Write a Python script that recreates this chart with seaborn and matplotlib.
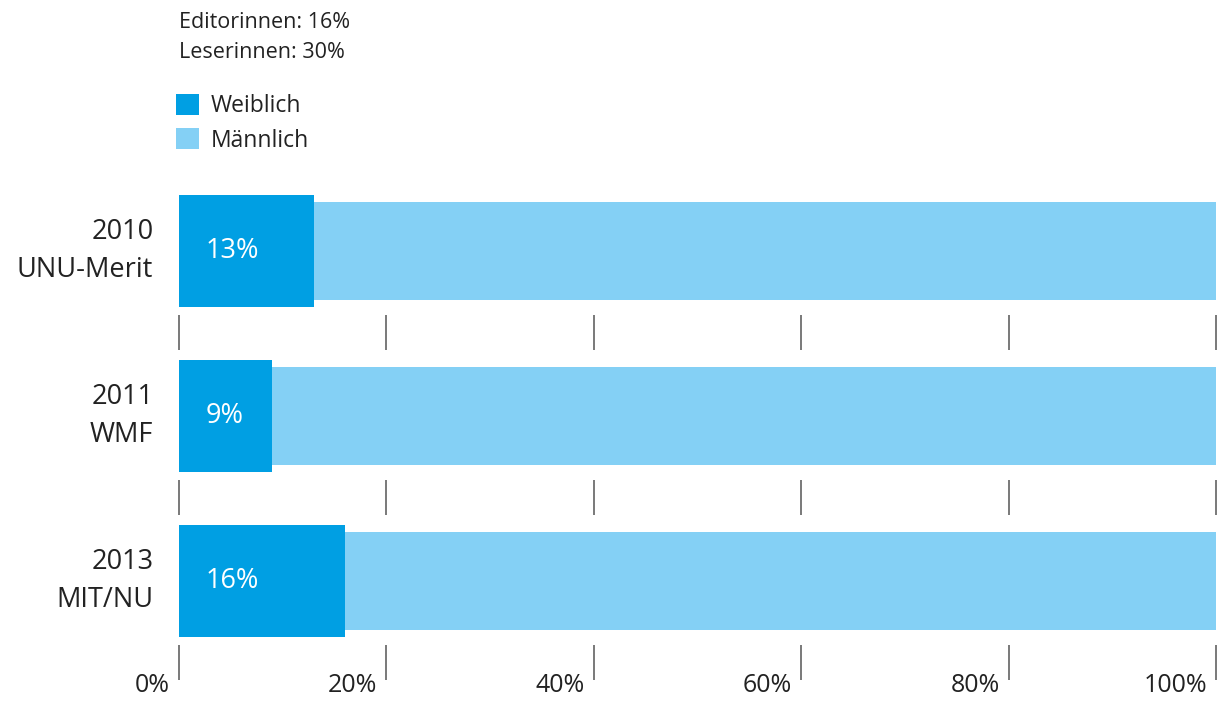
import matplotlib
matplotlib.use("Agg")
import matplotlib.pyplot as plt
from matplotlib.patches import Patch
from matplotlib import transforms
import seaborn as sns
import pandas as pd

# data
studies = ["2010\nUNU-Merit", "2011\nWMF", "2013\nMIT/NU"]
weiblich = [13, 9, 16]
total = [100, 100, 100]
xticks = [0, 20, 40, 60, 80, 100]
xticklabels = ["0%", "20%", "40%", "60%", "80%", "100%"]
notes = ["Editorinnen: 16%", "Leserinnen: 30%"]
legend_names = ["Weiblich", "Männlich"]

dark = "#009FE3"
light = "#84D0F5"
txt = "#222222"

sns.set_style("white")
plt.rcParams["font.family"] = ["Open Sans", "DejaVu Sans"]

df = pd.DataFrame({"study": studies, "w": weiblich, "t": total})

fig = plt.figure(figsize=(12.22, 7.02), dpi=100)
W, H = 1222, 702
ax = fig.add_axes([179 / W, (H - 672) / H, (1216 - 179) / W, (672 - 185) / H])

# background bar = 100% (Männlich part), female share drawn on top, a bit taller
sns.barplot(data=df, x="t", y="study", orient="h", color=light, width=0.594,
            saturation=1, linewidth=0, ax=ax)
sns.barplot(data=df, x="w", y="study", orient="h", color=dark, width=0.68,
            saturation=1, linewidth=0, ax=ax)

ax.set_xlim(0, 100)
ax.set_ylim(2.552, -0.4)
ax.set_xlabel("")
ax.set_ylabel("")
for s in ax.spines.values():
    s.set_visible(False)

# percent labels inside the dark bars
for i, v in enumerate(weiblich):
    ax.text(2.6, i, f"{v}%", color="white", fontsize=19.5, ha="left", va="center")

# short grid marks in the gaps below each bar
for i in range(len(studies)):
    ax.vlines(xticks, i + 0.388, i + 0.6, color="#555555", lw=1.1, clip_on=False)

# x tick labels, right aligned just left of the tick
ax.set_xticks(xticks)
ax.set_xticklabels(xticklabels, fontsize=18, color=txt)
ax.tick_params(axis="x", length=0, pad=1)
off = transforms.ScaledTranslation(-9 / 100, 0, fig.dpi_scale_trans)
for lab in ax.get_xticklabels():
    lab.set_ha("right")
    lab.set_transform(lab.get_transform() + off)

ax.tick_params(axis="y", length=0, pad=18.5)
for lab in ax.get_yticklabels():
    lab.set_fontsize(19.5)
    lab.set_color(txt)
    lab.set_ha("right")
    lab.set_va("center")
    lab.set_linespacing(1.45)
    lab.set_multialignment("right")

# notes at the top
fig.text(179 / W, 1 - 22 / H, notes[0], fontsize=15.5, color=txt, va="center", ha="left")
fig.text(179 / W, 1 - 52 / H, notes[1], fontsize=15.5, color=txt, va="center", ha="left")

handles = [Patch(facecolor=dark, edgecolor="none"), Patch(facecolor=light, edgecolor="none")]
fig.legend(handles, legend_names, loc="upper left", bbox_to_anchor=(176 / W, 1 - 94 / H),
           frameon=False, fontsize=16.5, handlelength=1.0, handleheight=1.0,
           handletextpad=0.5, labelspacing=0.45, borderaxespad=0, borderpad=0,
           labelcolor=txt)

fig.savefig("out.png", dpi=100)
